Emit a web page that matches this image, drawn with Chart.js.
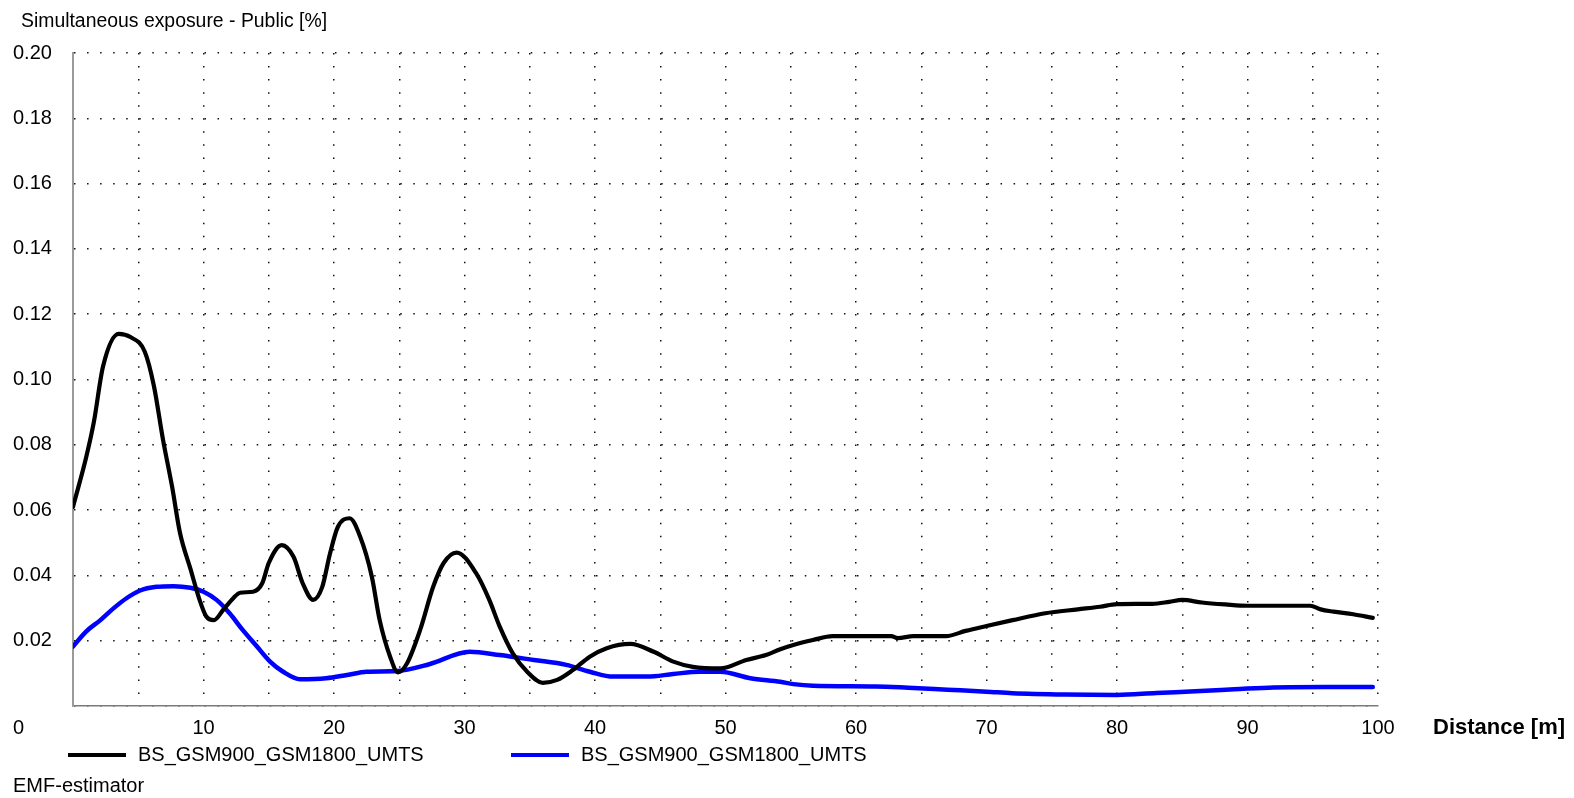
<!DOCTYPE html>
<html>
<head>
<meta charset="utf-8">
<title>Simultaneous exposure - Public</title>
<script src="https://cdn.jsdelivr.net/npm/chart.js@4/dist/chart.umd.min.js"></script>
<style>
  html, body { margin: 0; padding: 0; background: #ffffff; }
  canvas { display: block; }
</style>
</head>
<body>
<canvas id="chart" width="1574" height="798"></canvas>
<script>
// Text
const chartTitle = 'Simultaneous exposure - Public [%]';
const xAxisTitle = 'Distance [m]';
const footerText = 'EMF-estimator';
const seriesNames = ['BS_GSM900_GSM1800_UMTS', 'BS_GSM900_GSM1800_UMTS'];

// Axis ticks
const xTickValues = [0, 10, 20, 30, 40, 50, 60, 70, 80, 90, 100];
const yTickValues = [0.02, 0.04, 0.06, 0.08, 0.10, 0.12, 0.14, 0.16, 0.18, 0.20];

// Series 1 (black): distance [m] and exposure [%]
const blackDistance = [
  0, 1, 1.6, 2.3, 3.5, 4.4, 5.5, 6.2, 6.9, 7.6, 8.2, 9.0, 9.7, 10.2, 10.8,
  11.5, 12.3, 12.8, 13.8, 14.5, 15.0, 16.0, 16.9, 17.6, 18.4, 19.1, 19.7,
  20.3, 21.2, 22.0, 22.9, 23.5, 24.3, 24.9, 25.6, 26.6, 27.6, 28.4, 29.4,
  30.9, 31.9, 32.7, 33.7, 34.8, 36.0, 37.1, 38.3, 39.6, 40.9, 42.7, 44.5,
  46.0, 47.5, 49.6, 51.6, 53.1, 54.2, 55.2, 56.7, 58.2, 62.7, 63.2, 64.4,
  66.9, 68.4, 70.0, 72.0, 74.5, 77.0, 78.7, 80.0, 82.7, 84.0, 85.0, 86.5,
  88.3, 90.0, 94.8, 95.6, 96.6, 98.1, 99.6
];
const blackValues = [
  0.061, 0.076, 0.087, 0.104, 0.114, 0.113, 0.1085, 0.098, 0.0815, 0.067, 0.053, 0.042, 0.0325, 0.0275, 0.0263,
  0.0294, 0.0331, 0.0347, 0.035, 0.0376, 0.0438, 0.0493, 0.0457, 0.0376, 0.0325, 0.0365, 0.0468,
  0.0549, 0.0575, 0.0519, 0.0396, 0.0263, 0.0151, 0.0103, 0.0131, 0.0233, 0.0365, 0.0438, 0.047,
  0.0406, 0.0325, 0.0243, 0.0161, 0.0105, 0.0071, 0.008, 0.011, 0.0151, 0.0177, 0.019, 0.0166,
  0.0136, 0.012, 0.0115, 0.0141, 0.0156, 0.0174, 0.0187, 0.0202, 0.0214, 0.0214, 0.0208, 0.0214,
  0.0214, 0.023, 0.0245, 0.0263, 0.0284, 0.0296, 0.0304, 0.0312, 0.0313, 0.0319, 0.0325, 0.0317,
  0.0311, 0.0307, 0.0307, 0.0296, 0.0289, 0.0281, 0.027
];

// Series 2 (blue): distance [m] and exposure [%]
const blueDistance = [
  0, 1.0, 2.1, 3.1, 4.1, 5.1, 6.4, 7.7, 9.0, 10.0, 11.0, 12.0, 13.0, 14.1,
  15.1, 16.1, 17.4, 19.4, 21.0, 22.5, 24.8, 27.3, 30.4, 32.7, 35.3, 37.8,
  39.6, 41.4, 44.0, 46.0, 48.0, 49.6, 51.9, 54.2, 55.2, 56.7, 61.5, 64.0,
  67.0, 70.0, 72.0, 76.0, 80.0, 83.0, 86.0, 89.0, 92.0, 96.0, 99.6
];
const blueValues = [
  0.0182, 0.0228, 0.0263, 0.0299, 0.033, 0.0353, 0.0365, 0.0367, 0.0362, 0.035, 0.0325, 0.0284, 0.0233, 0.0182,
  0.0136, 0.0105, 0.0082, 0.0085, 0.0095, 0.0105, 0.0107, 0.0128, 0.0166, 0.0156, 0.0141, 0.0126,
  0.0105, 0.009, 0.009, 0.0098, 0.0105, 0.0105, 0.0085, 0.0074, 0.0067, 0.0062, 0.006, 0.0056,
  0.005, 0.0044, 0.0039, 0.0035, 0.0034, 0.004, 0.0045, 0.0051, 0.0057, 0.0058, 0.0058
];

const FONT = "'Liberation Sans', Arial, sans-serif";
const pairUp = (xs, ys) => xs.map((x, i) => ({ x, y: ys[i] }));

Chart.defaults.font.family = FONT;
Chart.defaults.font.size = 20;
Chart.defaults.color = '#000000';

// Title, x-axis caption, legend and footer drawn around the plot area
const annotations = {
  id: 'annotations',
  afterDraw(chart) {
    const { ctx } = chart;
    const xs = chart.scales.x;
    const ys = chart.scales.y;
    const labelMid = xs.top + 10 + 12;
    ctx.save();
    ctx.fillStyle = '#000000';
    ctx.textAlign = 'left';
    ctx.textBaseline = 'alphabetic';
    ctx.font = '19.4px ' + FONT;
    ctx.fillText(chartTitle, 21, 27);

    ctx.font = '20px ' + FONT;
    ctx.textBaseline = 'middle';
    ctx.fillText(String(xTickValues[0]), ys.left, labelMid);

    ctx.font = 'bold 22px ' + FONT;
    ctx.fillText(xAxisTitle, xs.right + 55, labelMid);

    // legend
    ctx.font = '20px ' + FONT;
    const legendY = 755;
    const starts = [68, 511];
    chart.data.datasets.forEach((ds, i) => {
      const x0 = starts[i];
      ctx.strokeStyle = ds.borderColor;
      ctx.lineWidth = 3.8;
      ctx.beginPath();
      ctx.moveTo(x0, legendY);
      ctx.lineTo(x0 + 58, legendY);
      ctx.stroke();
      ctx.fillText(ds.label, x0 + 70, legendY);
    });

    ctx.fillText(footerText, ys.left, 786);
    ctx.restore();
  }
};

new Chart(document.getElementById('chart'), {
  type: 'line',
  data: {
    datasets: [
      {
        label: seriesNames[0],
        data: pairUp(blackDistance, blackValues),
        borderColor: '#000000',
        borderWidth: 4.2,
        pointRadius: 0,
        cubicInterpolationMode: 'monotone',
        borderJoinStyle: 'round',
        borderCapStyle: 'round',
        fill: false
      },
      {
        label: seriesNames[1],
        data: pairUp(blueDistance, blueValues),
        borderColor: '#0000ff',
        borderWidth: 4.5,
        pointRadius: 0,
        cubicInterpolationMode: 'monotone',
        borderJoinStyle: 'round',
        borderCapStyle: 'round',
        fill: false
      }
    ]
  },
  options: {
    responsive: false,
    devicePixelRatio: 1,
    animation: false,
    events: [],
    layout: { padding: { left: 13, top: 53, right: 196, bottom: 0 } },
    plugins: {
      legend: { display: false },
      title: { display: false },
      tooltip: { enabled: false }
    },
    scales: {
      x: {
        type: 'linear',
        min: 0,
        max: 100,
        afterFit(scale) { scale.height = 92; },
        afterBuildTicks(scale) {
          const t = [];
          for (let v = 0; v <= 100; v += 5) t.push({ value: v });
          scale.ticks = t;
        },
        ticks: {
          autoSkip: false,
          maxRotation: 0,
          padding: 10,
          font: { size: 20 },
          callback: (v) => (v !== 0 && xTickValues.includes(v)) ? String(v) : ''
        },
        grid: {
          color: '#111111',
          lineWidth: 1.5,
          drawTicks: false
        },
        border: {
          display: true,
          color: '#7a7a7a',
          width: 1.6,
          dash: [1.5, 11.55]
        }
      },
      y: {
        min: 0,
        max: 0.2,
        afterFit(scale) { scale.width = 60; },
        afterBuildTicks(scale) {
          scale.ticks = [{ value: 0 }].concat(yTickValues.map(v => ({ value: v })));
        },
        ticks: {
          crossAlign: 'far',
          padding: 8,
          font: { size: 20 },
          callback: (v) => Math.abs(v) < 1e-9 ? '' : v.toFixed(2)
        },
        grid: {
          color: '#111111',
          lineWidth: 1.5,
          drawTicks: false
        },
        border: {
          display: true,
          color: '#9a9a9a',
          width: 2,
          dash: [1.5, 11.55]
        }
      }
    }
  },
  plugins: [annotations]
});
</script>
</body>
</html>
